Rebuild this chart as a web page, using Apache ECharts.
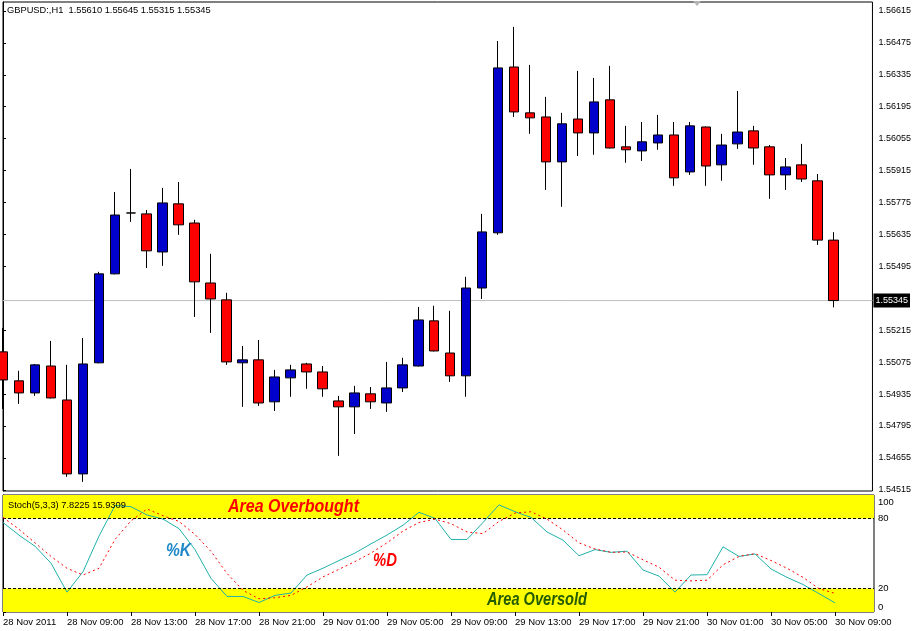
<!DOCTYPE html>
<html><head><meta charset="utf-8">
<script src="https://cdn.jsdelivr.net/npm/echarts@6/dist/echarts.min.js"></script>
<style>html,body{margin:0;padding:0;background:#fff}#c{width:914px;height:631px}</style>
</head><body><div id="c"></div>
<script>
// ---- data ----
const categories = [
 '28 Nov 05:00','28 Nov 06:00','28 Nov 07:00','28 Nov 08:00','28 Nov 09:00','28 Nov 10:00','28 Nov 11:00','28 Nov 12:00',
 '28 Nov 13:00','28 Nov 14:00','28 Nov 15:00','28 Nov 16:00','28 Nov 17:00','28 Nov 18:00','28 Nov 19:00','28 Nov 20:00',
 '28 Nov 21:00','28 Nov 22:00','28 Nov 23:00','29 Nov 00:00','29 Nov 01:00','29 Nov 02:00','29 Nov 03:00','29 Nov 04:00',
 '29 Nov 05:00','29 Nov 06:00','29 Nov 07:00','29 Nov 08:00','29 Nov 09:00','29 Nov 10:00','29 Nov 11:00','29 Nov 12:00',
 '29 Nov 13:00','29 Nov 14:00','29 Nov 15:00','29 Nov 16:00','29 Nov 17:00','29 Nov 18:00','29 Nov 19:00','29 Nov 20:00',
 '29 Nov 21:00','29 Nov 22:00','29 Nov 23:00','30 Nov 00:00','30 Nov 01:00','30 Nov 02:00','30 Nov 03:00','30 Nov 04:00',
 '30 Nov 05:00','30 Nov 06:00','30 Nov 07:00','30 Nov 08:00','30 Nov 09:00'];
const opens  = [1.55120,1.54993,1.54940,1.55058,1.54909,1.54585,1.55072,1.55462,1.55729,1.55725,1.55558,1.55769,1.55685,1.55422,1.55348,1.55072,1.55085,1.54901,1.55006,1.55067,1.55032,1.54905,1.54879,1.54936,1.54896,1.54962,1.55058,1.55256,1.55115,1.55015,1.55400,1.55642,1.56369,1.56168,1.56150,1.55953,1.56141,1.56080,1.56225,1.56019,1.56001,1.56036,1.56071,1.55909,1.56106,1.55940,1.56032,1.56089,1.56019,1.55896,1.55940,1.55870,1.55610];
const highs  = [1.55225,1.55037,1.55067,1.55168,1.55063,1.55181,1.55471,1.55821,1.55922,1.55742,1.55839,1.55865,1.55699,1.55550,1.55379,1.55146,1.55172,1.55041,1.55063,1.55072,1.55058,1.54927,1.54971,1.54966,1.55076,1.55094,1.55317,1.55322,1.55300,1.55449,1.55725,1.56483,1.56545,1.56378,1.56238,1.56168,1.56352,1.56321,1.56374,1.56111,1.56128,1.56159,1.56128,1.56128,1.56108,1.56076,1.56264,1.56111,1.56027,1.55970,1.56032,1.55900,1.55645];
const lows   = [1.54870,1.54892,1.54927,1.54916,1.54572,1.54550,1.55070,1.55460,1.55690,1.55488,1.55497,1.55633,1.55273,1.55203,1.55063,1.54879,1.54883,1.54861,1.54923,1.54958,1.54923,1.54664,1.54760,1.54870,1.54857,1.54944,1.55056,1.55122,1.54988,1.54923,1.55352,1.55633,1.56150,1.56076,1.55830,1.55756,1.55979,1.55984,1.56012,1.55949,1.55957,1.56006,1.55848,1.55896,1.55848,1.55870,1.56010,1.55940,1.55791,1.55830,1.55865,1.55589,1.55315];
const closes = [1.54997,1.54940,1.55063,1.54918,1.54585,1.55067,1.55462,1.55720,1.55729,1.55563,1.55773,1.55677,1.55427,1.55352,1.55076,1.55085,1.54896,1.55010,1.55041,1.55032,1.54958,1.54879,1.54940,1.54901,1.54962,1.55063,1.55260,1.55124,1.55015,1.55400,1.55646,1.56365,1.56172,1.56146,1.55953,1.56120,1.56080,1.56216,1.56014,1.56006,1.56041,1.56071,1.55883,1.56111,1.55935,1.56027,1.56084,1.56014,1.55896,1.55931,1.55878,1.55610,1.55345];
const stochK = [76.5,65.7,56.2,41.7,17.0,34.4,64.9,91.0,90.0,82.9,79.4,71.3,53.3,28.7,13.3,13.3,8.1,14.2,16.2,31.6,37.4,44.0,50.4,58.3,65.8,74.2,85.2,80.0,62.0,62.0,76.5,91.6,85.7,80.9,68.4,61.4,48.1,53.3,51.0,52.0,35.9,30.7,17.0,31.6,31.9,55.7,47.5,49.6,36.8,29.6,23.5,15.7,7.8225];
const stochD = [80.9,70.7,59.1,47.5,37.4,31.6,37.4,62.0,77.9,88.0,82.3,77.4,66.3,51.8,33.0,18.5,11.3,12.2,14.2,21.4,30.0,36.5,43.1,50.4,59.1,69.2,76.5,79.4,75.5,68.4,67.0,77.4,84.6,85.7,79.4,70.1,59.1,53.9,51.0,51.3,44.6,38.3,27.2,26.6,27.2,40.3,47.5,49.9,44.0,37.4,29.6,20.0,15.9309];
const priceTicks = ['1.56615','1.56475','1.56335','1.56195','1.56055','1.55915','1.55775','1.55635','1.55495','1.55215','1.55075','1.54935','1.54795','1.54655','1.54515'];
const timeTickIndex = [0,4,8,12,16,20,24,28,32,36,40,44,48,52];
const timeTickLabels = ['28 Nov 2011','28 Nov 09:00','28 Nov 13:00','28 Nov 17:00','28 Nov 21:00','29 Nov 01:00','29 Nov 05:00','29 Nov 09:00','29 Nov 13:00','29 Nov 17:00','29 Nov 21:00','30 Nov 01:00','30 Nov 05:00','30 Nov 09:00'];
const stochLevels = [0,20,80,100];
const lastPrice = 1.55345;
const titleText = 'GBPUSD:,H1  1.55610 1.55645 1.55315 1.55345';
const stochTitle = 'Stoch(5,3,3) 7.8225 15.9309';

// ---- chart ----
const FONT = '"Liberation Sans", Arial, sans-serif';
const priceTickValues = priceTicks.map(Number);
const candleData = opens.map((o, i) => [i, o, closes[i], lows[i], highs[i]]);
const kData = stochK.map((v, i) => [i, v]);
const dData = stochD.map((v, i) => [i, v]);
const xMax = 871 / 16;
const priceLineData = [[0, lastPrice], [xMax, lastPrice]];

const chart = echarts.init(document.getElementById('c'), null, {renderer: 'canvas'});
const option = {
  animation: false,
  backgroundColor: '#ffffff',
  textStyle: {fontFamily: FONT},
  grid: [
    {left: 3, top: 2, width: 871, height: 489, show: true, borderColor: '#000', borderWidth: 1, backgroundColor: 'transparent'},
    {left: 3, top: 495, width: 871, height: 117, show: true, borderColor: '#000', borderWidth: 1, backgroundColor: 'transparent'}
  ],
  xAxis: [
    {type: 'value', gridIndex: 0, min: 0, max: xMax, show: false},
    {type: 'value', gridIndex: 1, min: 0, max: xMax,
     splitLine: {show: false}, axisLine: {show: false},
     axisTick: {show: true, customValues: timeTickIndex, length: 4, lineStyle: {color: '#000'}},
     axisLabel: {customValues: timeTickIndex, formatter: v => timeTickLabels[timeTickIndex.indexOf(v)],
                 align: 'left', fontSize: 9.5, fontFamily: FONT, color: '#000', margin: 5}}
  ],
  yAxis: [
    {type: 'value', gridIndex: 0, position: 'right', min: 1.54510, max: 1.56654,
     splitLine: {show: false},
     axisLine: {show: true, lineStyle: {color: '#000'}},
     axisTick: {show: true, customValues: priceTickValues, length: 3, lineStyle: {color: '#000'}},
     axisLabel: {customValues: priceTickValues, formatter: v => v.toFixed(5), fontSize: 9, fontFamily: FONT, color: '#000', margin: 6}},
    {type: 'value', gridIndex: 1, position: 'right', min: 0, max: 100,
     splitLine: {show: false},
     axisLine: {show: true, lineStyle: {color: '#000'}},
     axisTick: {show: true, customValues: stochLevels, length: 3, lineStyle: {color: '#000'}},
     axisLabel: {customValues: stochLevels, fontSize: 9.5, fontFamily: FONT, color: '#000', margin: 4,
       formatter: v => v === 100 ? '{t|100}' : (v === 0 ? '{b|0}' : '{m|' + v + '}'),
       rich: {t: {padding: [15, 0, 0, 0], fontSize: 9.5}, b: {padding: [0, 0, 10, 0], fontSize: 9.5}, m: {fontSize: 9.5}}}}
  ],
  series: [
    {type: 'line', name: 'price', xAxisIndex: 0, yAxisIndex: 0, data: priceLineData, symbol: 'none', z: 1, silent: true,
     lineStyle: {color: '#c0c0c0', width: 1},
     endLabel: {show: true, formatter: lastPrice.toFixed(5), backgroundColor: '#000', color: '#fff',
                padding: [3, 2, 2, 2], fontSize: 9, fontFamily: FONT, distance: 1}},
    {type: 'candlestick', xAxisIndex: 0, yAxisIndex: 0, data: candleData, barWidth: 10, clip: true, z: 3,
     itemStyle: {color: '#0000cd', color0: '#ff0000', borderColor: '#000', borderColor0: '#000', borderColorDoji: '#000', borderWidth: 1}},
    {type: 'line', name: '%K', xAxisIndex: 1, yAxisIndex: 1, data: kData, symbol: 'none', z: 4,
     lineStyle: {color: '#20b2aa', width: 1},
     markArea: {silent: true, itemStyle: {color: '#ffff00', opacity: 1},
       data: [[{yAxis: 80}, {yAxis: 100}], [{yAxis: 0}, {yAxis: 20}]]},
     markLine: {silent: true, symbol: ['none', 'none'], label: {show: false},
       lineStyle: {color: '#000', type: [3, 2], width: 1},
       data: [{yAxis: 80}, {yAxis: 20}]}},
    {type: 'line', name: '%D', xAxisIndex: 1, yAxisIndex: 1, data: dData, symbol: 'none', z: 5,
     lineStyle: {color: '#ff0000', width: 1, type: [2, 3]}}
  ],
  graphic: [
    {type: 'text', x: 7, y: 10, style: {text: titleText, font: '9.3px ' + FONT, fill: '#000', textVerticalAlign: 'middle'}},
    {type: 'polygon', shape: {points: [[693, 1], [701, 1], [697, 6]]}, style: {fill: '#b4b4b4'}},
    {type: 'text', x: 8, y: 505, z: 10, style: {text: stochTitle, font: '9.3px ' + FONT, fill: '#000', textVerticalAlign: 'middle'}},
    {type: 'text', x: 228, y: 507, z: 10, scaleX: 0.844, style: {text: 'Area Overbought', font: 'italic bold 19px ' + FONT, fill: '#ff0000', textVerticalAlign: 'middle', shadowColor: 'rgba(0,0,0,0.55)', shadowBlur: 5, shadowOffsetX: 3, shadowOffsetY: 3}},
    {type: 'text', x: 487, y: 600, z: 10, scaleX: 0.77, style: {text: 'Area Oversold', font: 'italic bold 19px ' + FONT, fill: '#245c00', textVerticalAlign: 'middle', shadowColor: 'rgba(0,0,0,0.55)', shadowBlur: 5, shadowOffsetX: 3, shadowOffsetY: 3}},
    {type: 'text', x: 166, y: 551, z: 10, scaleX: 0.82, style: {text: '%K', font: 'italic bold 19px ' + FONT, fill: '#1e88c8', textVerticalAlign: 'middle', shadowColor: 'rgba(0,0,0,0.55)', shadowBlur: 5, shadowOffsetX: 3, shadowOffsetY: 3}},
    {type: 'text', x: 373, y: 561, z: 10, scaleX: 0.78, style: {text: '%D', font: 'italic bold 19px ' + FONT, fill: '#ff0000', textVerticalAlign: 'middle', shadowColor: 'rgba(0,0,0,0.55)', shadowBlur: 5, shadowOffsetX: 3, shadowOffsetY: 3}}
  ]
};
chart.setOption(option);
</script>
</body></html>
